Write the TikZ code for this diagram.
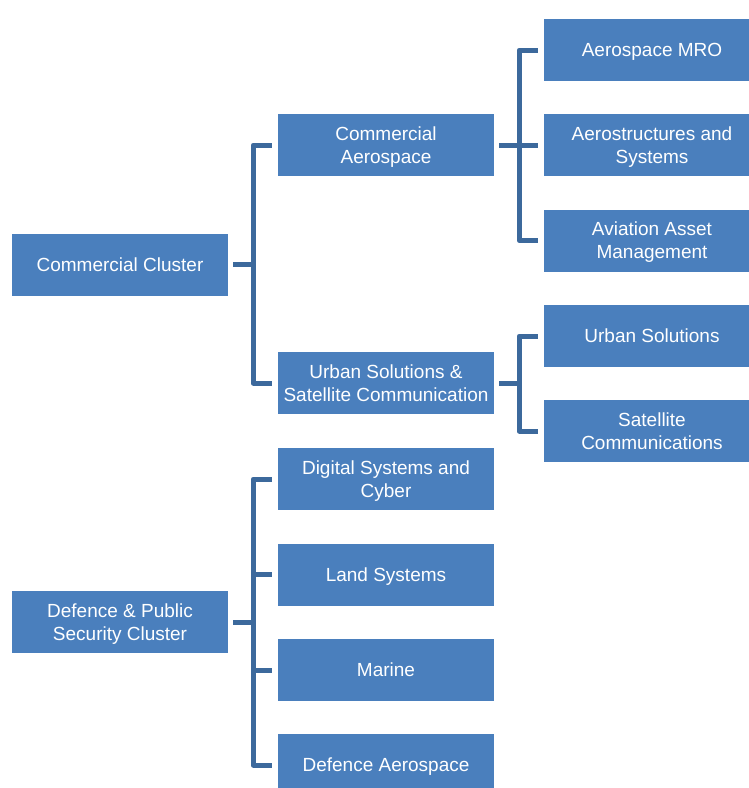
\documentclass[tikz,border=0pt]{standalone}
\usepackage{fontspec}
\setmainfont{Liberation Sans}
\definecolor{boxblue}{RGB}{74,127,189}
\definecolor{linkblue}{RGB}{60,105,156}
\begin{document}
\begin{tikzpicture}[x=1pt, y=-1pt,
    unit/.style={shape=rectangle, fill=boxblue, text=white, minimum width=216pt,
                 minimum height=62pt, align=center, inner sep=2pt, text depth=0pt,
                 font=\fontsize{19}{23}\selectfont},
    branch/.style={draw=linkblue, line width=5pt, line join=round}]
            \clip (0,0) rectangle (749,788);
            % clusters
            \node[unit](cc) at (120,264.5) {Commercial Cluster};
            \node[unit](dc) at (120,622)   {Defence \& Public\\Security Cluster};
            % second level
            \node[unit](ca) at (386,145) {Commercial\\Aerospace};
            \node[unit](us) at (386,383) {Urban Solutions \&\\Satellite Communication};
            \node[unit](ds) at (386,479) {Digital Systems and\\Cyber};
            \node[unit](ls) at (386,574.5) {Land Systems};
            \node[unit](ma) at (386,670) {Marine};
            \node[unit](da) at (386,765) {Defence Aerospace};
            % third level
            \node[unit](mro) at (652,50)    {Aerospace MRO};
            \node[unit](as)  at (652,145)   {Aerostructures and\\Systems};
            \node[unit](aam) at (652,240.5) {Aviation Asset\\Management};
            \node[unit](uso) at (652,336)   {Urban Solutions};
            \node[unit](sc)  at (652,431)   {Satellite\\Communications};
            % spines
            \coordinate (s1) at ([xshift=25pt]cc.east);
            \coordinate (s2) at ([xshift=25pt]ca.east);
            \coordinate (s3) at ([xshift=25pt]us.east);
            \coordinate (s4) at ([xshift=25pt]dc.east);
            \draw[branch] ([xshift=5pt]cc.east) -- (s1);
            \draw[branch] ([xshift=-6pt]ca.west) -| (s1) |- ([xshift=-6pt]us.west);
            \draw[branch] ([xshift=5pt]ca.east) -- (s2);
            \draw[branch] ([xshift=-6pt]mro.west) -| (s2) |- ([xshift=-6pt]aam.west);
            \draw[branch] ([xshift=-6pt]as.west) -- (as.west -| s2);
            \draw[branch] ([xshift=5pt]us.east) -- (s3);
            \draw[branch] ([xshift=-6pt]uso.west) -| (s3) |- ([xshift=-6pt]sc.west);
            \draw[branch] ([xshift=5pt]dc.east) -- (s4);
            \draw[branch] ([xshift=-6pt]ds.west) -| (s4) |- ([xshift=-6pt]da.west);
            \foreach \n in {ls, ma} {
                \draw[branch] ([xshift=-6pt]\n.west) -- (\n.west -| s4);
            }
        \end{tikzpicture}
\end{document}
